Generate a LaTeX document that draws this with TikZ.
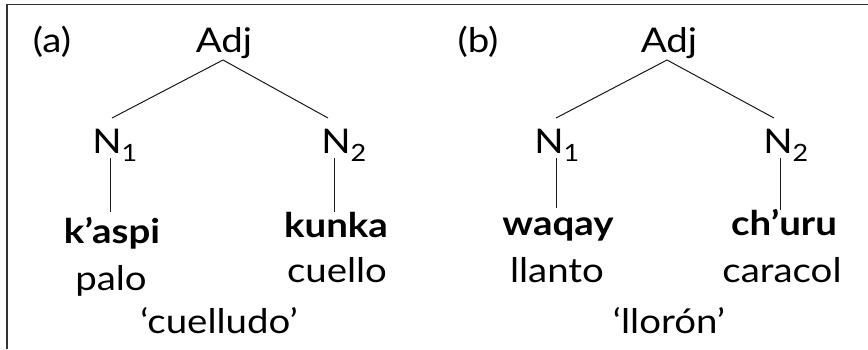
\documentclass[tikz,border=0pt]{standalone}
\usepackage{fontspec}
\setmainfont{Lato}[FakeStretch=1.13]
\begin{document}
\begin{tikzpicture}[x=1pt,y=-1pt,
  lbl/.style={anchor=base,inner sep=0pt,font=\fontsize{34}{36}\selectfont},
  wbold/.style={lbl,font=\fontsize{34}{36}\selectfont\bfseries},
  edge/.style={draw=black!90,line width=1pt},
  frame/.style={draw=black!80,line width=1.6pt}]
\useasboundingbox (0,0) rectangle (868,349);
\draw[frame] (7,349) -- (7,4.5) -- (868,4.5);
% tree (a)
\node[lbl] (ta) at (52,52) {(a)};
\node[lbl] (adja) at (224,52) {Adj};
\node[lbl] (n1a) at (115,153) {N\textsubscript{1}};
\node[lbl] (n2a) at (344,153) {N\textsubscript{2}};
\node[wbold] (wa1) at (112,243) {k’aspi};
\node[wbold] (wa2) at (336,237) {kunka};
\node[lbl] (ga1) at (111,290) {palo};
\node[lbl] (ga2) at (337,282) {cuello};
\node[lbl] (ma) at (219,333) {‘cuelludo’};
\coordinate (adja-b) at (223,60);
\coordinate (n1a-t) at (112,118);
\coordinate (n2a-t) at (328,118);
\coordinate (n1a-b) at (110,158);
\coordinate (n2a-b) at (334,158);
\coordinate (wa1-t) at (110,212);
\coordinate (wa2-t) at (334,212);
\draw[edge] (n1a-t) -- (adja-b) -- (n2a-t);
\draw[edge] (n1a-b) -- (wa1-t);
\draw[edge] (n2a-b) -- (wa2-t);
% tree (b)
\node[lbl] (tb) at (478,52) {(b)};
\node[lbl] (adjb) at (669,52) {Adj};
\node[lbl] (n1b) at (557,153) {N\textsubscript{1}};
\node[lbl] (n2b) at (786,153) {N\textsubscript{2}};
\node[wbold] (wb1) at (558,235) {waqay};
\node[wbold] (wb2) at (784,235) {ch’uru};
\node[lbl] (gb1) at (557,282) {llanto};
\node[lbl] (gb2) at (782,282) {caracol};
\node[lbl] (mb) at (669,333) {‘llorón’};
\coordinate (adjb-b) at (667,60);
\coordinate (n1b-t) at (556,118);
\coordinate (n2b-t) at (774,118);
\coordinate (n1b-b) at (556,158);
\coordinate (n2b-b) at (780,158);
\coordinate (wb1-t) at (556,208);
\coordinate (wb2-t) at (780,210);
\draw[edge] (n1b-t) -- (adjb-b) -- (n2b-t);
\draw[edge] (n1b-b) -- (wb1-t);
\draw[edge] (n2b-b) -- (wb2-t);
\end{tikzpicture}
\end{document}
